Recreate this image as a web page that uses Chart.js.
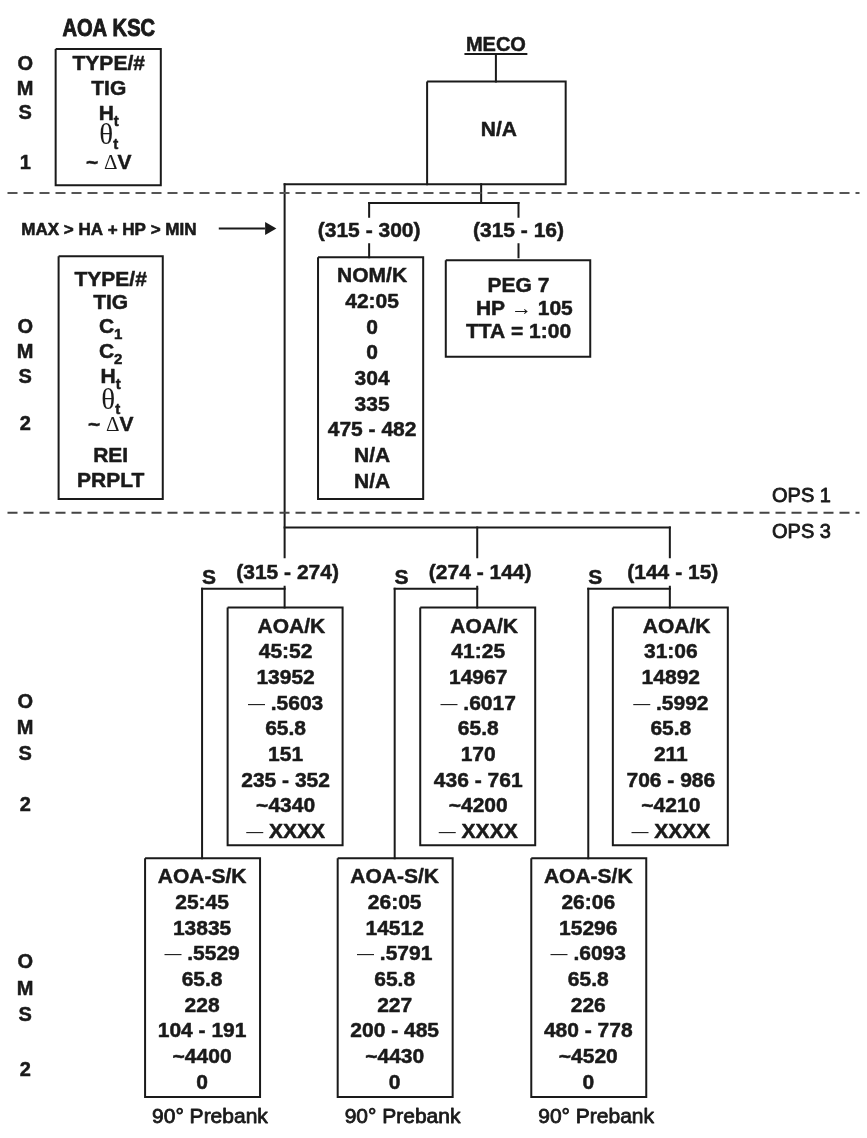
<!DOCTYPE html>
<html><head><meta charset="utf-8">
<script src="https://cdn.jsdelivr.net/npm/chart.js@4.4.0/dist/chart.umd.min.js"></script>
<style>html,body{margin:0;padding:0;background:#fff}canvas{display:block}</style>
</head><body>
<canvas id="c" width="867" height="1138"></canvas>
<script>
// ---------------- DATA (texts / values) ----------------
const title = 'AOA KSC';
const omsLetters1 = ['O', 'M', 'S', '1'];
const omsLetters2 = ['O', 'M', 'S', '2'];
const oms1Labels = ['TYPE/#', 'TIG', 'H_t', 'θ_t', '~ ΔV'];
const oms2Labels = ['TYPE/#', 'TIG', 'C_1', 'C_2', 'H_t', 'θ_t', '~ ΔV', 'REI', 'PRPLT'];
const mecoLabel = 'MECO';
const mecoValue = 'N/A';
const limitText = 'MAX > HA + HP > MIN';
const ops1Ranges = ['(315 - 300)', '(315 - 16)'];
const nomK = ['NOM/K', '42:05', '0', '0', '304', '335', '475 - 482', 'N/A', 'N/A'];
const peg7 = ['PEG 7', '  HP → 105', 'TTA = 1:00'];
const opsLabels = ['OPS 1', 'OPS 3'];
const ops3Ranges = ['(315 - 274)', '(274 - 144)', '(144 - 15)'];
const aoaK1 = ['  AOA/K', '45:52', '13952', '— .5603', '65.8', '151', '235 - 352', '~4340', '— XXXX'];
const aoaK2 = ['  AOA/K', '41:25', '14967', '— .6017', '65.8', '170', '436 - 761', '~4200', '— XXXX'];
const aoaK3 = ['  AOA/K', '31:06', '14892', '— .5992', '65.8', '211', '706 - 986', '~4210', '— XXXX'];
const aoaSK1 = ['AOA-S/K', '25:45', '13835', '— .5529', '65.8', '228', '104 - 191', '~4400', '0'];
const aoaSK2 = ['AOA-S/K', '26:05', '14512', '— .5791', '65.8', '227', '200 - 485', '~4430', '0'];
const aoaSK3 = ['AOA-S/K', '26:06', '15296', '— .6093', '65.8', '226', '480 - 778', '~4520', '0'];
const switchLabel = 'S';
const prebankLabel = '90° Prebank';

// ---------------- LAYOUT ----------------
const W = 867, H = 1138;
const INK = '#1a1a1a';
const SANS = '"Liberation Sans", Arial, Helvetica, sans-serif';
const SERIF = '"Liberation Serif", "Times New Roman", serif';
const FS = 21;          // box text size
const ROW = 26;         // row pitch in the OPS 3 boxes
const colX = [282, 478, 674];   // main branch lines
const sX = [198, 394, 591];     // "S" branch lines
const aoaTables = [aoaK1, aoaK2, aoaK3];
const aoaSTables = [aoaSK1, aoaSK2, aoaSK3];

const datasets = [];
const texts = [];
function seg(x1, y1, x2, y2, opt) {
  datasets.push(Object.assign({
    data: [{x: x1, y: y1}, {x: x2, y: y2}], showLine: true, borderColor: INK,
    borderWidth: 2, pointRadius: 0, fill: false, tension: 0, clip: false, borderCapStyle: 'square'
  }, opt || {}));
}
function box(x1, y1, x2, y2) {
  datasets.push({
    data: [{x: x1, y: y1}, {x: x2, y: y1}, {x: x2, y: y2}, {x: x1, y: y2}, {x: x1, y: y1}],
    showLine: true, borderColor: INK, borderWidth: 2, pointRadius: 0, fill: false,
    tension: 0, clip: false, borderJoinStyle: 'miter'
  });
}
function txt(s, x, y, o) { texts.push(Object.assign({s, x, y, size: FS, weight: 'bold', align: 'center', sx: 1, sy: 1, stroke: 0.5}, o || {})); }

// dashed phase separators
seg(0, 188, W, 188, {borderDash: [10, 6], borderColor: '#555', borderCapStyle: 'butt'});
seg(0, 512, W, 512, {borderDash: [10, 6], borderColor: '#444', borderCapStyle: 'butt'});

// title + OMS 1 template box
txt(title, 103, 20, {size: 24.5, sx: 0.82, stroke: 1.0});
box(49, 42, 156, 180);
const oms1Y = [56, 81, 106, 130, 156];
oms1Labels.forEach((s, i) => txt(s, 103, oms1Y[i]));
[56, 81, 106, 156].forEach((y, i) => txt(omsLetters1[i], 18, y, {size: 20}));

// MECO
txt(mecoLabel, 497, 37, {size: 20});
seg(466, 47, 528, 47);
seg(497, 48, 497, 75);
box(427, 75, 568, 179);
txt(mecoValue, 500, 123);

// main trunk
seg(282, 179, 427, 179);
seg(282, 179, 282, 557);
seg(482, 179, 482, 198);
seg(368, 198, 520, 198);
seg(368, 198, 368, 212);
seg(520, 198, 520, 212);
txt(ops1Ranges[0], 368, 225);
txt(ops1Ranges[1], 520, 225);
seg(368, 240, 368, 253);
seg(520, 240, 520, 253);

// limits + arrow
txt(limitText, 14, 224, {size: 17, align: 'left', stroke: 0.6});
seg(215, 224, 262, 224, {borderCapStyle: 'butt'});
datasets.push({data: [{x: 266, y: 224}], pointStyle: 'triangle', rotation: 90, pointRadius: 7.5,
  backgroundColor: INK, borderWidth: 0, showLine: false, clip: false});

// OMS 2 template box (OPS 1)
box(52, 252, 158, 498);
const oms2Y = [275, 298, 322, 348, 373, 398, 421, 453, 478];
oms2Labels.forEach((s, i) => txt(s, 105, oms2Y[i]));
[323, 348, 373, 421].forEach((y, i) => txt(omsLetters2[i], 18, y, {size: 20}));

// NOM/K
box(316, 253, 423, 498);
nomK.forEach((s, i) => txt(s, 371, 271 + ROW * i));

// PEG 7
box(446, 256, 593, 354);
peg7.forEach((s, i) => txt(s, 520, 281 + 23 * i));

// OPS labels
txt(opsLabels[0], 808, 494, {size: 20, weight: 'normal', stroke: 0.8});
txt(opsLabels[1], 808, 530, {size: 20, weight: 'normal', stroke: 0.8});

// OPS 3 branches
seg(282, 527, 674, 527);
seg(478, 527, 478, 557);
seg(674, 527, 674, 557);
colX.forEach((cx, k) => {
  const sx = sX[k];
  txt(ops3Ranges[k], cx + 3, 571);
  seg(cx, 587, cx, 608);
  seg(sx, 589, cx, 589);
  seg(sx, 589, sx, 862);
  txt(switchLabel, sx + 7, 577);
  box(cx - 58, 608, cx + 59, 849);
  aoaTables[k].forEach((s, i) => txt(s, cx + 1, 626 + ROW * i));
  box(sx - 58, 862, sx + 59, 1104);
  aoaSTables[k].forEach((s, i) => txt(s, sx, 880 + ROW * i));
  txt(prebankLabel, sx + 8, 1123, {weight: 'normal', size: 21, stroke: 0.8});
});
[703, 729, 755, 807].forEach((y, i) => txt(omsLetters2[i], 18, y, {size: 20}));
[966, 993, 1020, 1075].forEach((y, i) => txt(omsLetters2[i], 18, y, {size: 20}));

// ---------------- RICH TEXT ----------------
function parse(s) {
  const out = []; let i = 0;
  const special = '_θΔ→—';
  while (i < s.length) {
    const ch = s[i];
    if (ch === '_') { out.push({t: s[i + 1], k: 'sub'}); i += 2; continue; }
    if (ch === 'θ') { out.push({t: ch, k: 'theta'}); i++; continue; }
    if (ch === 'Δ' || ch === '→') { out.push({t: ch, k: 'sym'}); i++; continue; }
    if (ch === '—') { out.push({t: ch, k: 'dash'}); i++; continue; }
    let j = i; while (j < s.length && !special.includes(s[j])) j++;
    out.push({t: s.slice(i, j), k: 'n'}); i = j;
  }
  return out;
}
function fontFor(k, z, w) {
  if (k === 'sub') return {f: `bold ${Math.round(z * 0.7)}px ${SANS}`, dy: z * 0.28, bold: true};
  if (k === 'theta') return {f: `normal ${Math.round(z * 1.4)}px ${SERIF}`, dy: z * 0.04, bold: false};
  if (k === 'sym') return {f: `normal ${z}px ${SERIF}`, dy: 0, bold: false};
  if (k === 'dash') return {f: `normal ${Math.round(z * 0.8)}px ${SANS}`, dy: -z * 0.06, bold: false};
  return {f: `${w} ${z}px ${SANS}`, dy: 0, bold: true};
}
const textPlugin = {
  id: 'diagramText',
  beforeDraw(chart) {
    const c = chart.ctx; c.save(); c.fillStyle = '#fff'; c.fillRect(0, 0, chart.width, chart.height); c.restore();
  },
  afterDatasetsDraw(chart) {
    const c = chart.ctx, xs = chart.scales.x, ys = chart.scales.y;
    c.save();
    c.fillStyle = INK;
    c.strokeStyle = INK;
    c.lineJoin = 'round';
    c.textBaseline = 'alphabetic';
    texts.forEach(t => {
      const segs = parse(t.s);
      let total = 0;
      segs.forEach(g => { const f = fontFor(g.k, t.size, t.weight); c.font = f.f; g.w = c.measureText(g.t).width; g.f = f; total += g.w; });
      const px = xs.getPixelForValue(t.x), py = ys.getPixelForValue(t.y);
      c.save();
      c.translate(px, py);
      c.scale(t.sx, t.sy);
      let x0 = t.align === 'left' ? 0 : -total / 2;
      const base = t.size * 0.36;
      segs.forEach(g => {
        c.font = g.f.f;
        c.fillText(g.t, x0, base + g.f.dy);
        if (g.f.bold && t.stroke > 0) {
          c.lineWidth = t.stroke;
          c.strokeText(g.t, x0, base + g.f.dy);
        }
        x0 += g.w;
      });
      c.restore();
    });
    c.restore();
  }
};

new Chart(document.getElementById('c'), {
  type: 'scatter',
  data: {datasets},
  options: {
    responsive: false, animation: false, devicePixelRatio: 1,
    layout: {padding: 0},
    plugins: {legend: {display: false}, tooltip: {enabled: false}},
    events: [],
    scales: {
      x: {type: 'linear', min: 0, max: W, display: false},
      y: {type: 'linear', min: 0, max: H, reverse: true, display: false}
    }
  },
  plugins: [textPlugin]
});
</script>
</body></html>
